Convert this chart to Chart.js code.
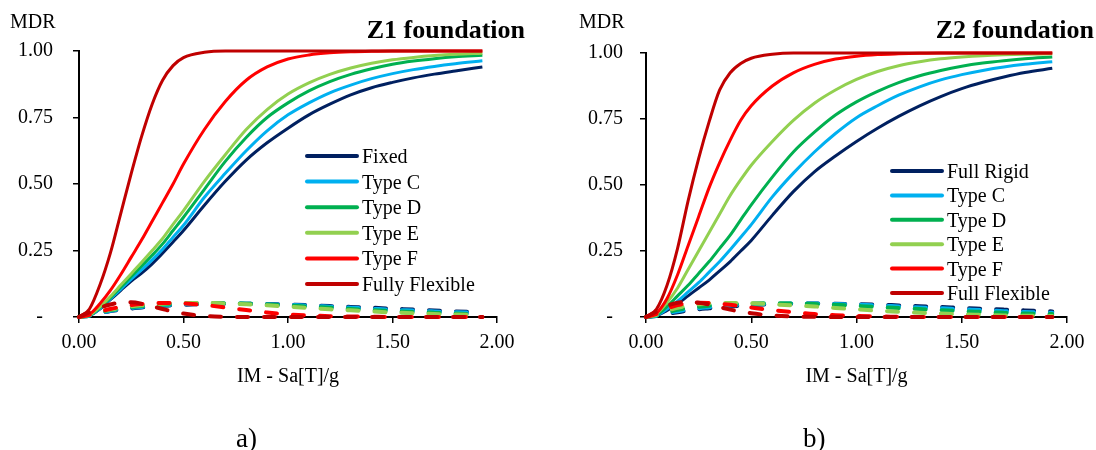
<!DOCTYPE html>
<html><head><meta charset="utf-8">
<script src="https://cdn.jsdelivr.net/npm/chart.js@4.4.1/dist/chart.umd.min.js"></script>
<style>
html,body{margin:0;padding:0;background:#fff;width:1096px;height:450px;overflow:hidden;position:relative}
canvas{position:absolute;top:0}
#c1{left:0}
#c2{left:560px}
.lab{position:absolute;font-family:'Liberation Serif','Times New Roman',serif;font-size:27px;color:#000;line-height:1}
</style></head><body>
<canvas id="c1" width="545" height="450"></canvas>
<canvas id="c2" width="536" height="450"></canvas>
<div class="lab" style="left:236px;top:425px">a)</div>
<div class="lab" style="left:803px;top:425px">b)</div>
<script>
// ---- data ----
const xs = [0,0.05,0.1,0.15,0.2,0.25,0.3,0.35,0.4,0.45,0.5,0.6,0.7,0.8,0.9,1.0,1.1,1.2,1.3,1.4,1.5,1.6,1.7,1.8,1.93];

const z1Names = ['Fixed','Type C','Type D','Type E','Type F','Fully Flexible'];
const z2Names = ['Full Rigid','Type C','Type D','Type E','Type F','Full Flexible'];

// Z1 solid curves (MDR)
const z1Fixed = [0,0.005,0.03,0.065,0.1,0.135,0.165,0.2,0.24,0.282,0.325,0.42,0.51,0.59,0.655,0.71,0.76,0.80,0.835,0.862,0.882,0.899,0.913,0.925,0.94];
const z1TypeC = [0,0.005,0.032,0.068,0.105,0.142,0.178,0.215,0.255,0.3,0.345,0.45,0.54,0.625,0.70,0.76,0.805,0.843,0.872,0.896,0.915,0.93,0.942,0.952,0.963];
const z1TypeD = [0,0.006,0.035,0.072,0.112,0.152,0.192,0.232,0.275,0.325,0.375,0.48,0.585,0.675,0.75,0.805,0.85,0.885,0.912,0.933,0.95,0.962,0.971,0.978,0.984];
const z1TypeE = [0,0.007,0.038,0.077,0.12,0.163,0.206,0.25,0.295,0.348,0.40,0.51,0.61,0.705,0.78,0.838,0.88,0.912,0.936,0.954,0.967,0.976,0.983,0.988,0.992];
const z1TypeF = [0,0.01,0.05,0.1,0.16,0.225,0.29,0.36,0.43,0.5,0.575,0.705,0.81,0.89,0.94,0.97,0.985,0.993,0.997,0.999,1,1,1,1,1];
const z1Flex  = [0,0.03,0.12,0.24,0.39,0.54,0.68,0.8,0.89,0.945,0.975,0.995,1,1,1,1,1,1,1,1,1,1,1,1,1];

// Z1 dashed curves
const z1FixedD = [0,0.005,0.015,0.022,0.028,0.032,0.036,0.039,0.042,0.044,0.046,0.049,0.05,0.05,0.049,0.047,0.045,0.041,0.038,0.035,0.031,0.028,0.024,0.021,0.018];
const z1TypeCD = [0,0.005,0.016,0.023,0.03,0.034,0.038,0.041,0.044,0.046,0.048,0.05,0.051,0.05,0.048,0.046,0.043,0.039,0.035,0.031,0.027,0.024,0.021,0.018,0.015];
const z1TypeDD = [0,0.006,0.018,0.026,0.032,0.037,0.041,0.044,0.047,0.049,0.051,0.052,0.052,0.05,0.047,0.043,0.039,0.035,0.03,0.026,0.022,0.019,0.016,0.013,0.01];
const z1TypeED = [0,0.007,0.02,0.028,0.034,0.04,0.044,0.047,0.05,0.052,0.053,0.053,0.051,0.048,0.044,0.039,0.034,0.029,0.025,0.021,0.017,0.014,0.011,0.009,0.007];
const z1TypeFD = [0,0.008,0.02,0.03,0.038,0.045,0.049,0.052,0.053,0.053,0.051,0.045,0.036,0.026,0.017,0.01,0.006,0.003,0.002,0.001,0,0,0,0,0];
const z1FlexD  = [0,0.018,0.035,0.047,0.054,0.055,0.05,0.04,0.03,0.02,0.013,0.004,0.001,0,0,0,0,0,0,0,0,0,0,0,0];

// Z2 solid curves (MDR)
const z2Rigid = [0,0.005,0.025,0.05,0.08,0.11,0.14,0.175,0.21,0.25,0.29,0.385,0.475,0.55,0.61,0.665,0.715,0.76,0.80,0.835,0.865,0.889,0.909,0.926,0.942];
const z2TypeC = [0,0.006,0.03,0.06,0.095,0.13,0.17,0.21,0.255,0.302,0.35,0.455,0.545,0.625,0.695,0.755,0.80,0.84,0.872,0.898,0.918,0.934,0.947,0.957,0.967];
const z2TypeD = [0,0.008,0.04,0.08,0.12,0.165,0.21,0.26,0.31,0.368,0.425,0.53,0.625,0.70,0.765,0.815,0.855,0.888,0.914,0.934,0.95,0.962,0.971,0.978,0.985];
const z2TypeE = [0,0.012,0.055,0.11,0.18,0.25,0.32,0.39,0.46,0.52,0.575,0.665,0.745,0.81,0.86,0.90,0.93,0.952,0.967,0.978,0.985,0.99,0.993,0.995,0.997];
const z2TypeF = [0,0.015,0.07,0.16,0.27,0.38,0.49,0.585,0.67,0.745,0.80,0.875,0.925,0.957,0.977,0.988,0.994,0.997,0.999,1,1,1,1,1,1];
const z2Flex  = [0,0.03,0.12,0.26,0.44,0.6,0.74,0.86,0.925,0.96,0.98,0.995,1,1,1,1,1,1,1,1,1,1,1,1,1];

// Z2 dashed curves
const z2RigidD = [0,0.004,0.012,0.018,0.024,0.029,0.033,0.037,0.04,0.043,0.045,0.048,0.05,0.051,0.05,0.049,0.047,0.044,0.041,0.038,0.034,0.031,0.028,0.025,0.021];
const z2TypeCD = [0,0.005,0.015,0.022,0.028,0.033,0.037,0.041,0.044,0.046,0.048,0.05,0.051,0.051,0.049,0.047,0.044,0.04,0.036,0.033,0.029,0.026,0.022,0.019,0.016];
const z2TypeDD = [0,0.006,0.018,0.027,0.034,0.039,0.043,0.046,0.049,0.05,0.051,0.052,0.051,0.049,0.046,0.042,0.038,0.034,0.03,0.026,0.022,0.019,0.016,0.013,0.011];
const z2TypeED = [0,0.008,0.024,0.035,0.043,0.048,0.051,0.053,0.053,0.053,0.052,0.048,0.044,0.04,0.034,0.029,0.024,0.02,0.016,0.013,0.01,0.008,0.006,0.005,0.004];
const z2TypeFD = [0,0.012,0.032,0.045,0.052,0.054,0.053,0.05,0.046,0.041,0.036,0.026,0.018,0.011,0.007,0.004,0.002,0.001,0,0,0,0,0,0,0];
const z2FlexD  = [0,0.02,0.042,0.054,0.057,0.054,0.047,0.037,0.028,0.02,0.014,0.006,0.002,0.001,0,0,0,0,0,0,0,0,0,0,0];

const yTicks = ['-','0.25','0.50','0.75','1.00'];
// ---- styling ----
const colors = ['#002060','#00B0F0','#00B050','#92D050','#FF0000','#C00000'];
const FAM = "'Liberation Serif','Times New Roman',serif";

function pts(arr){ return arr.map((v,i)=>({x:xs[i], y:v})); }

function makeDatasets(names, solids, dashed){
  const ds = [];
  solids.forEach((arr,i)=>{
    ds.push({label:names[i], data:pts(arr), borderColor:colors[i], borderWidth:3,
      pointRadius:0, cubicInterpolationMode:'monotone', fill:false, order:20-i, clip:false});
  });
  dashed.forEach((arr,i)=>{
    ds.push({label:names[i]+' (dashed)', data:pts(arr), borderColor:colors[i], borderWidth:4,
      borderDash:[11,16], borderCapStyle:'round', pointRadius:0, cubicInterpolationMode:'monotone',
      fill:false, order:10-i, clip:false});
  });
  return ds;
}

function annot(cfg){
  return {
    id:'annot',
    afterDraw(chart){
      const ctx = chart.ctx;
      ctx.save();
      ctx.fillStyle = '#000';
      ctx.textBaseline = 'alphabetic';
      ctx.font = "20px " + FAM;
      ctx.textAlign = 'left';
      ctx.fillText('MDR', cfg.mdrX, 28);
      ctx.font = "bold 26px " + FAM;
      ctx.textAlign = 'right';
      ctx.fillText(cfg.title, cfg.titleRight, 38);
      ctx.font = "20px " + FAM;
      ctx.textAlign = 'left';
      cfg.names.forEach((n,i)=>{
        const y = cfg.legY0 + i*cfg.legDy;
        ctx.strokeStyle = colors[i]; ctx.lineWidth = 4; ctx.lineCap = 'round';
        ctx.beginPath(); ctx.moveTo(cfg.legX1, y); ctx.lineTo(cfg.legX2, y); ctx.stroke();
        ctx.fillText(n, cfg.legX2 + 5, y + 7);
      });
      ctx.restore();
    }
  };
}

function makeChart(id, names, solids, dashed, geo){
  return new Chart(document.getElementById(id), {
    type:'line',
    data:{datasets: makeDatasets(names, solids, dashed)},
    options:{
      responsive:false, animation:false, devicePixelRatio:1,
      layout:{padding:{left:0, right:geo.padRight, top:geo.top, bottom:0}},
      plugins:{legend:{display:false}, tooltip:{enabled:false}, title:{display:false}},
      scales:{
        x:{type:'linear', min:0, max:2,
          ticks:{stepSize:0.5, callback:v=>v.toFixed(2), font:{family:FAM,size:20}, color:'#000', padding:8, maxRotation:0},
          grid:{display:true, drawOnChartArea:false, drawTicks:true, tickLength:6, color:'#000', lineWidth:1.5},
          border:{display:true, color:'#000', width:2},
          title:{display:true, text:'IM - Sa[T]/g', font:{family:FAM,size:20}, color:'#000', padding:{top:0,bottom:61}},
          afterFit(s){ s.height = 133; }
        },
        y:{min:0, max:1,
          ticks:{stepSize:0.25, callback:(v)=>{ const i=Math.round(v*4); return i===0 ? yTicks[0]+'  ' : yTicks[i]; },
            font:{family:FAM,size:20}, color:'#000', padding:geo.yPad},
          grid:{display:true, drawOnChartArea:false, drawTicks:true, tickLength:6, color:'#000', lineWidth:1.5},
          border:{display:true, color:'#000', width:2},
          afterFit(s){ s.width = geo.yWidth; }
        }
      }
    },
    plugins:[annot(geo)]
  });
}

makeChart('c1', z1Names,
  [z1Fixed,z1TypeC,z1TypeD,z1TypeE,z1TypeF,z1Flex],
  [z1FixedD,z1TypeCD,z1TypeDD,z1TypeED,z1TypeFD,z1FlexD],
  {padRight:48, top:51, yWidth:79, yPad:20, mdrX:10, title:'Z1 foundation', titleRight:525,
   names:z1Names, legX1:307, legX2:357, legY0:156, legDy:25.6});

makeChart('c2', z2Names,
  [z2Rigid,z2TypeC,z2TypeD,z2TypeE,z2TypeF,z2Flex],
  [z2RigidD,z2TypeCD,z2TypeDD,z2TypeED,z2TypeFD,z2FlexD],
  {padRight:29, top:53, yWidth:86, yPad:17, mdrX:19, title:'Z2 foundation', titleRight:534,
   names:z2Names, legX1:332, legX2:382, legY0:171, legDy:24.4});
</script></body></html>
